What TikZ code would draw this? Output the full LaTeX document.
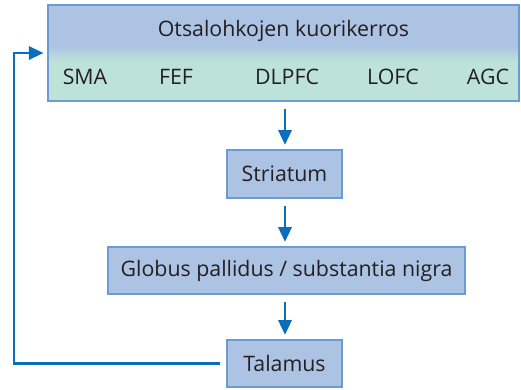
\documentclass[tikz,border=0pt]{standalone}
\usepackage{fontspec}
\setmainfont{Open Sans}
\usetikzlibrary{arrows.meta,calc}
\definecolor{boxblue}{HTML}{ADC3E4}
\definecolor{boxgreen}{HTML}{BDE2D8}
\definecolor{boxedge}{HTML}{6C9BD3}
\definecolor{linkblue}{HTML}{0A6EBD}
\definecolor{ink}{HTML}{231F20}
\tikzset{
  px/.style={x=0.75pt,y=-0.75pt},
  stagebox/.style={draw=boxedge, line width=1.8pt, fill=boxblue, inner sep=0pt, text=ink, font=\fontsize{16}{18}\selectfont},
  lbl/.style={text=ink, font=\fontsize{16}{18}\selectfont, inner sep=0pt},
  link/.style={draw=linkblue, line width=1.6pt, -{Triangle[length=11pt,width=10pt]}}
}
\begin{document}
\begin{tikzpicture}[px]
\useasboundingbox (0,0) rectangle (521,389);
\node (ctx) [draw=boxedge, line width=1.8pt, minimum width=471*0.75pt, minimum height=96*0.75pt, inner sep=0pt,
  path picture={
    \fill[boxgreen] (path picture bounding box.south west) rectangle (path picture bounding box.north east);
    \fill[boxblue] (path picture bounding box.north west) rectangle ($(path picture bounding box.north east)+(0,42)$);
    \shade[top color=boxblue, bottom color=boxgreen] ($(path picture bounding box.north west)+(0,41)$) rectangle ($(path picture bounding box.north east)+(0,56)$);
  }] at (283.5,53) {};
\node (title) [lbl] at (283.5,31) {Otsalohkojen kuorikerros};
\node (sma) [lbl] at (85,77) {SMA};
\node (fef) [lbl] at (176,77) {FEF};
\node (dlpfc) [lbl] at (287,77) {DLPFC};
\node (lofc) [lbl] at (393,77) {LOFC};
\node (agc) [lbl] at (488,77) {AGC};
\node (str) [stagebox, minimum width=115*0.75pt, minimum height=48*0.75pt] at (284.5,174) {Striatum};
\node (gp) [stagebox, minimum width=357*0.75pt, minimum height=47*0.75pt] at (286.5,270.5) {Globus pallidus / substantia nigra};
\node (tal) [stagebox, minimum width=115*0.75pt, minimum height=47*0.75pt] at (284.5,363.5) {Talamus};
\draw[link, shorten <=5pt, shorten >=3pt] (ctx.south -| 285,0) -- (str.north -| 285,0);
\draw[link, shorten <=5pt, shorten >=3pt] (str.south -| 285,0) -- (gp.north -| 285,0);
\draw[link, shorten <=5pt, shorten >=3pt] (gp.south -| 285,0) -- (tal.north -| 285,0);
\draw[link, shorten <=4pt, shorten >=2.5pt] (tal.west) -- (14,363.5) |- (ctx.west);
\end{tikzpicture}
\end{document}
